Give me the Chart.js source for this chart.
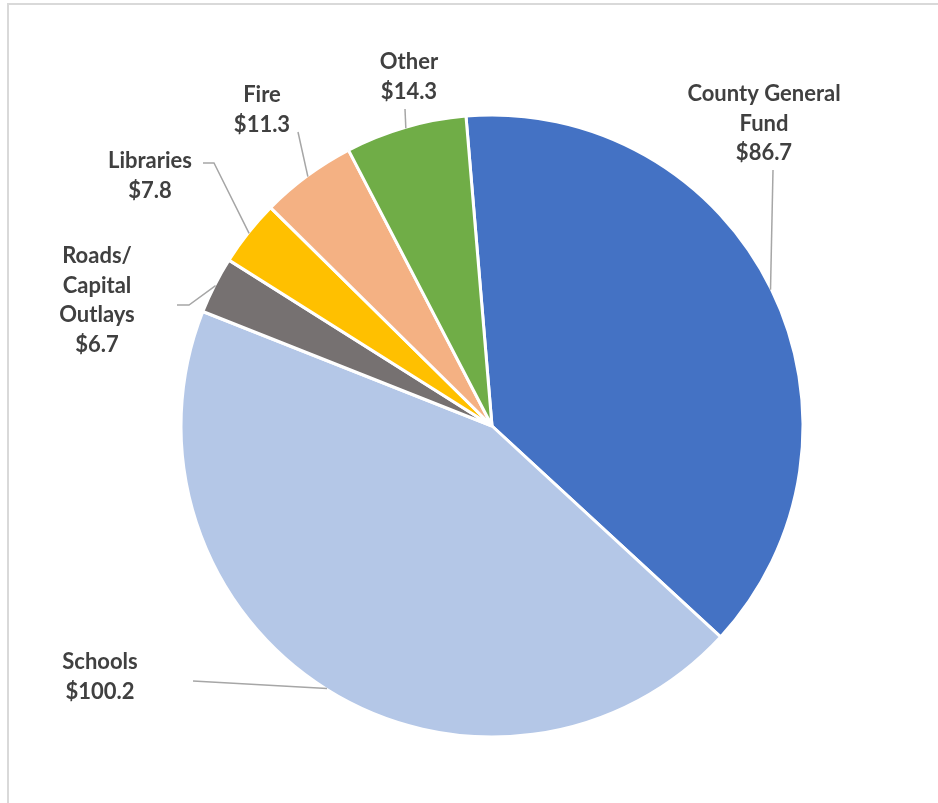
<!DOCTYPE html>
<html>
<head>
<meta charset="utf-8">
<script src="https://cdn.jsdelivr.net/npm/chart.js@4"></script>
<style>
  body { margin: 0; background: #fff; }
  #wrap { position: relative; width: 938px; height: 803px; overflow: hidden; }
  #frame { position: absolute; left: 7px; top: 3px; width: 960px; height: 840px;
           border-left: 2px solid #d9d9d9; border-top: 2px solid #d9d9d9; }
  canvas { position: absolute; left: 0; top: 0; }
</style>
</head>
<body>
<div id="wrap">
  <div id="frame"></div>
  <canvas id="myChart" width="938" height="803"></canvas>
</div>
<script>
// slices, clockwise from the top
const categories = [['County General', 'Fund'], ['Schools'], ['Roads/', 'Capital', 'Outlays'], ['Libraries'], ['Fire'], ['Other']];
const amounts = [86.7, 100.2, 6.7, 7.8, 11.3, 14.3];
const sliceColors = ['#4472C4', '#B4C7E7', '#767171', '#FFC000', '#F4B183', '#70AD47'];

// where each label sits and where its leader line starts
const labelLayout = [
  { x: 764, y: 94, leader: [[773, 170]] },
  { x: 100, y: 662, leader: [[193, 681]] },
  { x: 97, y: 256, leader: [[177, 305], [189, 305]] },
  { x: 150, y: 161, leader: [[203, 163], [214, 163]] },
  { x: 262, y: 95, leader: [[298, 132]] },
  { x: 409, y: 62, leader: [[405, 109]] }
];

const calloutPlugin = {
  id: 'callouts',
  afterDatasetsDraw(chart) {
    const ctx = chart.ctx;
    const arcs = chart.getDatasetMeta(0).data;
    ctx.save();
    arcs.forEach((arc, i) => {
      const lay = labelLayout[i];
      const mid = (arc.startAngle + arc.endAngle) / 2;
      const ex = arc.x + Math.cos(mid) * (arc.outerRadius - 1);
      const ey = arc.y + Math.sin(mid) * (arc.outerRadius - 1);
      ctx.strokeStyle = '#a6a6a6';
      ctx.lineWidth = 1.5;
      ctx.beginPath();
      ctx.moveTo(lay.leader[0][0], lay.leader[0][1]);
      lay.leader.slice(1).forEach(p => ctx.lineTo(p[0], p[1]));
      ctx.lineTo(ex, ey);
      ctx.stroke();

      const lines = categories[i].concat(['$' + amounts[i].toFixed(1)]);
      ctx.fillStyle = '#404040';
      ctx.font = 'bold 22px Lato';
      ctx.textAlign = 'center';
      ctx.textBaseline = 'middle';
      lines.forEach((t, k) => ctx.fillText(t, lay.x, lay.y + k * 29.5));
    });
    ctx.restore();
  }
};

const ctx = document.getElementById('myChart').getContext('2d');
const myChart = new Chart(ctx, {
  type: 'pie',
  data: {
    labels: categories.map(c => c.join(' ')),
    datasets: [{
      data: amounts,
      backgroundColor: sliceColors,
      borderColor: '#ffffff',
      borderWidth: 3
    }]
  },
  options: {
    responsive: false,
    animation: false,
    rotation: -4.8,
    radius: 311,
    layout: { padding: { left: 46, top: 49 } },
    plugins: {
      legend: { display: false },
      tooltip: { enabled: false }
    }
  },
  plugins: [calloutPlugin]
});
</script>
</body>
</html>
